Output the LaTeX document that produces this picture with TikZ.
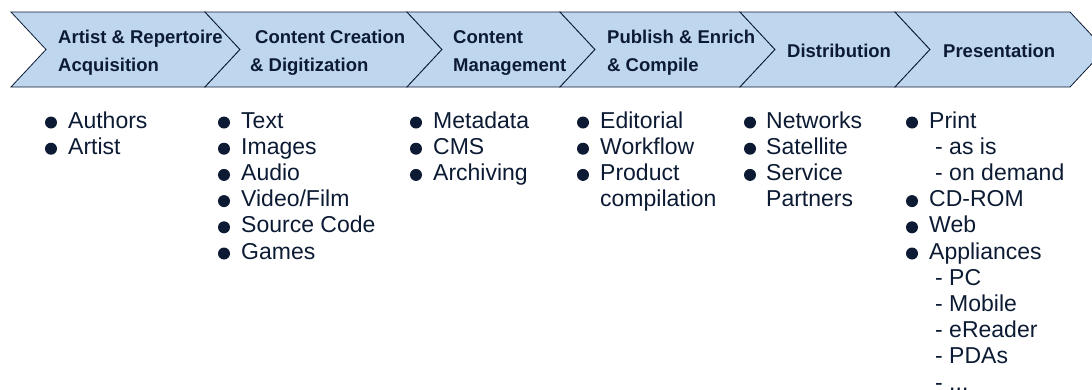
\documentclass[tikz,border=0pt]{standalone}
\usepackage{fontspec}
\setmainfont{Liberation Sans}
\definecolor{ink}{RGB}{12,27,51}
\definecolor{chev}{RGB}{191,215,238}
\newcommand\chevron[2]{% left x, right x
  \draw[chevbox] (#1,12) -- (#2,12) -- ({#2+35},49.5) -- (#2,87) -- (#1,87) -- ({#1+35},49.5) -- cycle;}
\newcommand\bul[5]{% name, bullet x, text x, row, text
  \fill[ink] (#2,{128+26.2*(#4-1)-5.5}) circle (6);
  \node[body] (#1) at (#3,{128+26.2*(#4-1)}) {#5};}
\newcommand\sub[4]{% name, text x, row, text
  \node[body] (#1) at (#2,{128+26.2*(#3-1)}) {#4};}
\begin{document}
\begin{tikzpicture}[x=1pt,y=-1pt,
  chevbox/.style={fill=chev,draw=ink,line width=0.8pt,line join=miter},
  head/.style={anchor=base west,inner sep=0pt,text=ink,font=\fontsize{18.5}{28}\selectfont\bfseries},
  body/.style={anchor=base west,inner sep=0pt,text=ink,font=\fontsize{23}{26}\selectfont}]
\useasboundingbox (0,0) rectangle (1092,389);
\clip (0,0) rectangle (1092,389);
\chevron{11}{205}
\chevron{205}{407}
\chevron{407}{560}
\chevron{560}{740}
\chevron{740}{895}
\chevron{895}{1070}
% headers
\node[head] (h1a) at (58,43) {Artist \& Repertoire};
\node[head] (h1b) at (58,71) {Acquisition};
\node[head] (h2a) at (255,43) {Content Creation};
\node[head] (h2b) at (250,71) {\& Digitization};
\node[head] (h3a) at (453,43) {Content};
\node[head] (h3b) at (453,71) {Management};
\node[head] (h4a) at (607,43) {Publish \& Enrich};
\node[head] (h4b) at (607,71) {\& Compile};
\node[head] (h5) at (787,57) {Distribution};
\node[head] (h6) at (943,57) {Presentation};
% column 1
\bul{a1}{51}{68}{1}{Authors}
\bul{a2}{51}{68}{2}{Artist}
% column 2
\bul{b1}{224}{241}{1}{Text}
\bul{b2}{224}{241}{2}{Images}
\bul{b3}{224}{241}{3}{Audio}
\bul{b4}{224}{241}{4}{Video/Film}
\bul{b5}{224}{241}{5}{Source Code}
\bul{b6}{224}{241}{6}{Games}
% column 3
\bul{c1}{416}{433}{1}{Metadata}
\bul{c2}{416}{433}{2}{CMS}
\bul{c3}{416}{433}{3}{Archiving}
% column 4
\bul{d1}{583}{600}{1}{Editorial}
\bul{d2}{583}{600}{2}{Workflow}
\bul{d3}{583}{600}{3}{Product}
\sub{d4}{600}{4}{compilation}
% column 5
\bul{e1}{750}{766}{1}{Networks}
\bul{e2}{750}{766}{2}{Satellite}
\bul{e3}{750}{766}{3}{Service}
\sub{e4}{766}{4}{Partners}
% column 6
\bul{f1}{912}{929}{1}{Print}
\sub{f2}{935}{2}{- as is}
\sub{f3}{935}{3}{- on demand}
\bul{f4}{912}{929}{4}{CD-ROM}
\bul{f5}{912}{929}{5}{Web}
\bul{f6}{912}{929}{6}{Appliances}
\sub{f7}{935}{7}{- PC}
\sub{f8}{935}{8}{- Mobile}
\sub{f9}{935}{9}{- eReader}
\sub{f10}{935}{10}{- PDAs}
\sub{f11}{935}{11}{- ...}
\end{tikzpicture}
\end{document}
